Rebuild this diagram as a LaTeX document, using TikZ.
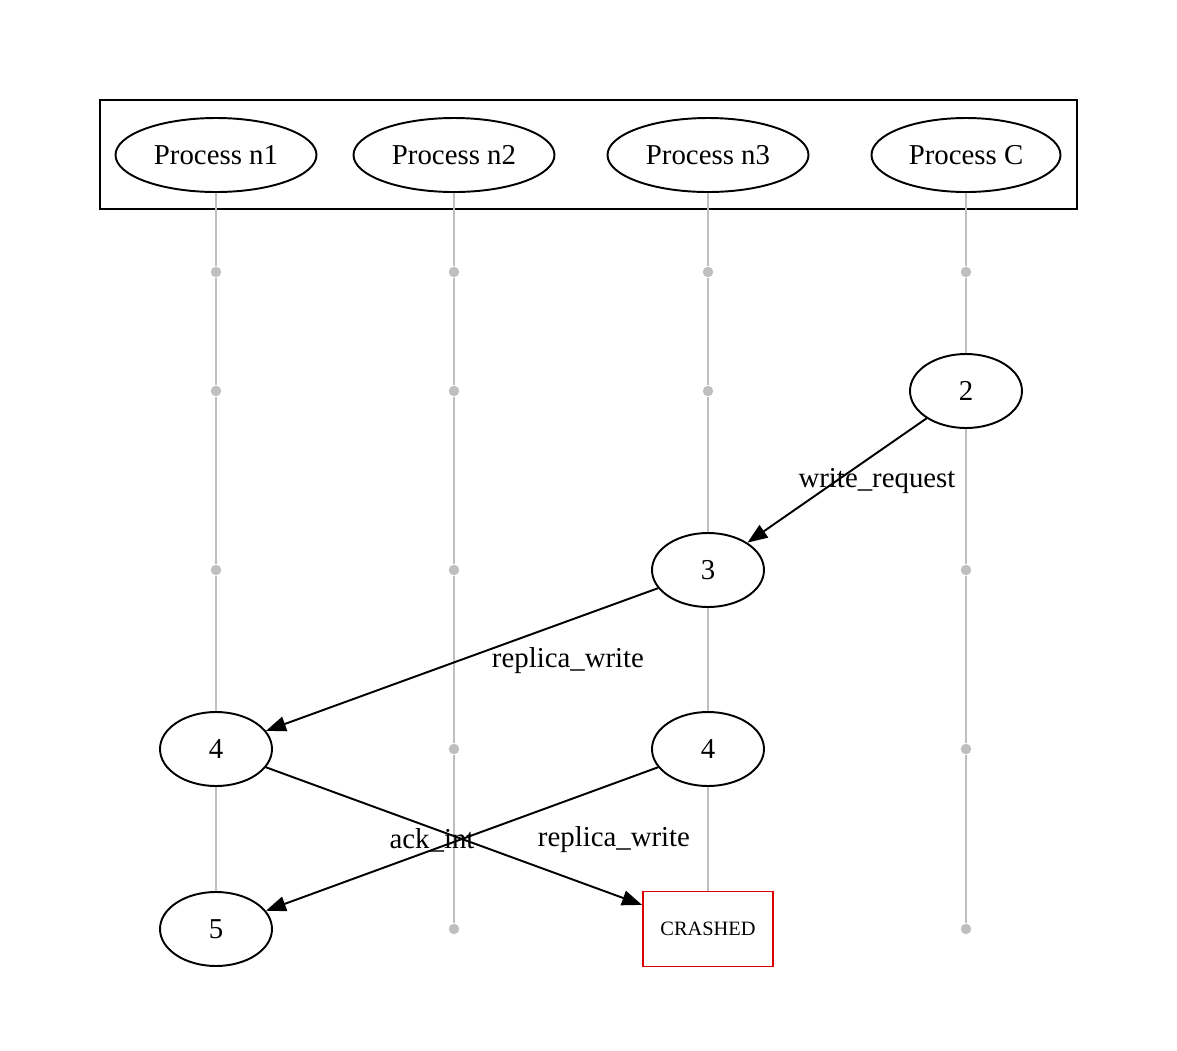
\documentclass[tikz,border=0pt]{standalone}
\usepackage{fontspec}
\setmainfont{Liberation Serif}
\usepackage{tikz}
\usetikzlibrary{arrows.meta,positioning,shapes.geometric}

\begin{document}
\begin{tikzpicture}[>={Triangle[length=4mm,width=3mm]},
  hd/.style={ellipse,draw,line width=1.1pt,fill=white,minimum width=4.02cm,minimum height=1.48cm,inner sep=0pt,font=\fontsize{16.4}{18}\selectfont},
  ev/.style={ellipse,draw,line width=1.1pt,fill=white,minimum width=2.24cm,minimum height=1.48cm,inner sep=0pt,font=\fontsize{16.4}{18}\selectfont},
  dt/.style={circle,fill=black!25,minimum size=2.1mm,inner sep=0pt},
  crash/.style={rectangle,draw=red!85!black,line width=1.1pt,fill=white,minimum width=2.6cm,minimum height=1.5cm,inner sep=0pt,font=\fontsize{11.6}{13}\selectfont},
  life/.style={black!25,line width=1.3pt},
  ar/.style={->,line width=1.1pt},lab/.style={inner sep=0pt,font=\fontsize{16.4}{18}\selectfont}]
\useasboundingbox (0,0) rectangle (23.54,-21);
\draw[line width=1.1pt] (2.0,-2.0) rectangle (21.54,-4.18);
% process headers
\node[hd] (hn1) at (4.32,-3.1) {Process n1};
\node[hd] (hn2) at (9.08,-3.1) {Process n2};
\node[hd] (hn3) at (14.16,-3.1) {Process n3};
\node[hd,minimum width=3.78cm] (hc) at (19.32,-3.1) {Process C};
% events
\node[ev] (c2) at (19.32,-7.82) {2};
\node[ev] (n3e3) at (14.16,-11.4) {3};
\node[ev] (n1e4) at (4.32,-14.98) {4};
\node[ev] (n3e4) at (14.16,-14.98) {4};
\node[ev] (n1e5) at (4.32,-18.58) {5};
\node[crash] (n3x) at (14.16,-18.58) {CRASHED};
% idle steps
\node[dt] (d11) at (4.32,-5.44) {}; \node[dt] (d12) at (4.32,-7.82) {}; \node[dt] (d13) at (4.32,-11.4) {};
\node[dt] (d21) at (9.08,-5.44) {}; \node[dt] (d22) at (9.08,-7.82) {}; \node[dt] (d23) at (9.08,-11.4) {};
\node[dt] (d24) at (9.08,-14.98) {}; \node[dt] (d25) at (9.08,-18.58) {};
\node[dt] (d31) at (14.16,-5.44) {}; \node[dt] (d32) at (14.16,-7.82) {};
\node[dt] (dc1) at (19.32,-5.44) {}; \node[dt] (dc3) at (19.32,-11.4) {};
\node[dt] (dc4) at (19.32,-14.98) {}; \node[dt] (dc5) at (19.32,-18.58) {};
% lifelines
\draw[life] (hn1)--(d11)--(d12)--(d13)--(n1e4)--(n1e5);
\draw[life] (hn2)--(d21)--(d22)--(d23)--(d24)--(d25);
\draw[life] (hn3)--(d31)--(d32)--(n3e3)--(n3e4)--(n3x);
\draw[life] (hc)--(dc1)--(c2)--(dc3)--(dc4)--(dc5);
% messages
\draw[ar] (c2)--(n3e3); \node[lab] (lwr) at (17.54,-9.62) {write\_request};
\draw[ar] (n3e3)--(n1e4); \node[lab] (lrw1) at (11.36,-13.22) {replica\_write};
\draw[ar] (n1e4)--(n3x); \node[lab] (lrw2) at (12.28,-16.8) {replica\_write};
\draw[ar] (n3e4)--(n1e5); \node[lab] (lack) at (8.64,-16.8) {ack\_int};
\end{tikzpicture}
\end{document}
